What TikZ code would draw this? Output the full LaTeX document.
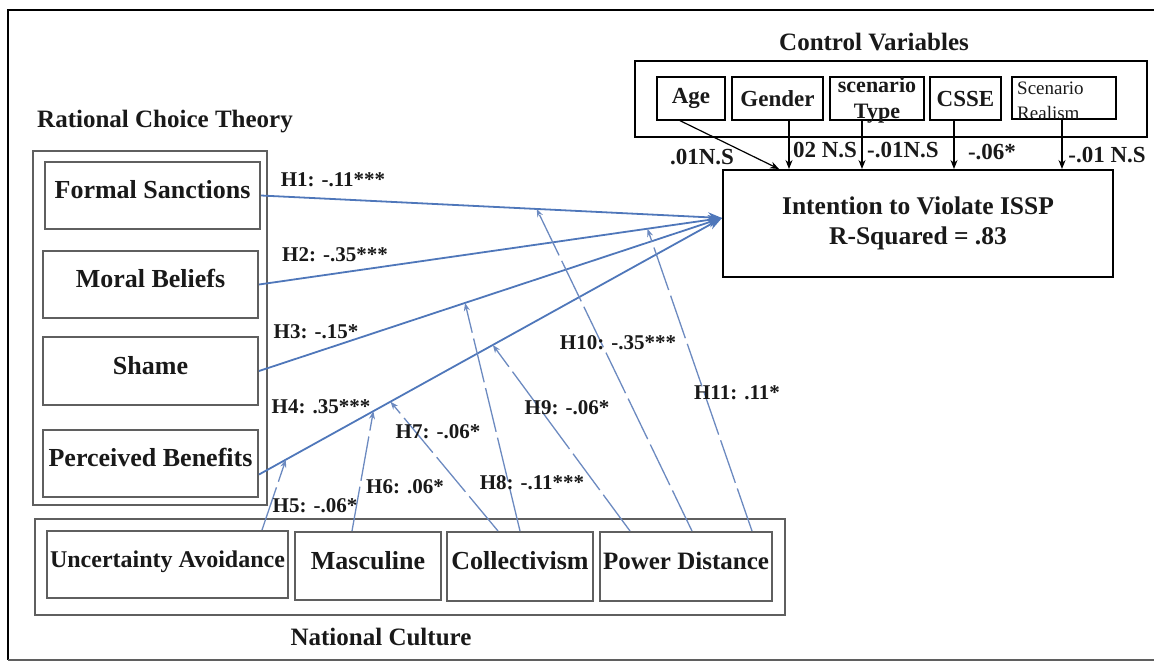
\documentclass[tikz,border=0pt]{standalone}
\usepackage{fontspec}
\setmainfont{Liberation Serif}
\usetikzlibrary{arrows.meta,calc}
\definecolor{pathblue}{RGB}{79,119,186}
\definecolor{modblue}{RGB}{108,138,192}
\definecolor{framegray}{RGB}{95,95,95}
\definecolor{ink}{RGB}{25,25,25}

\begin{document}
\begin{tikzpicture}[x=1pt,y=-1pt,
  every node/.style={text=ink, inner sep=0pt},
  grpbox/.style={draw=framegray, line width=2pt},
  varbox/.style={draw=framegray, line width=2pt,
    font=\fontsize{#1}{28}\selectfont\bfseries, text height=17pt, text depth=11pt},
  varbox/.default=26,
  ctlbox/.style={draw=black, line width=1.3pt, minimum height=43pt,
    font=\fontsize{23}{26}\selectfont\bfseries},
  titletext/.style={font=\fontsize{25}{30}\selectfont\bfseries},
  hlab/.style={font=\fontsize{21}{25}\selectfont\bfseries},
  clab/.style={font=\fontsize{23}{26}\selectfont\bfseries},
  mainpath/.style={draw=pathblue, line width=1.8pt, -{Stealth[length=14pt,width=10pt]}},
  modpath/.style={draw=modblue, line width=1.3pt, dash pattern=on 45pt off 6pt,
    -{Stealth[length=8pt,width=6pt]}},
  ctlarrow/.style={draw=black, line width=1.2pt, -{Stealth[length=9pt,width=7pt]}}
]
\useasboundingbox (0,0) rectangle (1154,662);

% outer frame
\draw[line width=2.8pt, black] (1160,10) -- (8,10) -- (8,660);
\draw[line width=1.8pt, framegray] (8,660) -- (1160,660);

% ---- Rational Choice Theory block
\node[titletext] (rcttitle) at (165,122) {Rational Choice Theory};
\node[grpbox, minimum width=234pt, minimum height=354pt] (rct) at (150,328) {};
\node[varbox, minimum width=215pt, minimum height=67pt] (fs) at (152.5,195.5) {Formal Sanctions};
\node[varbox, minimum width=215pt, minimum height=67pt] (mb) at (150.5,284.5) {Moral Beliefs};
\node[varbox, minimum width=215pt, minimum height=68pt] (sh) at (150.5,371) {Shame};
\node[varbox, minimum width=215pt, minimum height=67pt] (pb) at (150.5,463.5) {Perceived Benefits};

% ---- National Culture block
\node[grpbox, minimum width=750pt, minimum height=96pt] (nc) at (410,567) {};
\node[varbox=24, minimum width=241pt, minimum height=67pt] (ua) at (167.5,564.5) {Uncertainty Avoidance};
\node[varbox, minimum width=146pt, minimum height=68pt] (ma) at (368,566) {Masculine};
\node[varbox, minimum width=146pt, minimum height=69pt] (co) at (520,566.5) {Collectivism};
\node[varbox=25, minimum width=172pt, minimum height=69pt] (pd) at (686,566.5) {Power Distance};
\node[titletext] (nctitle) at (381,637) {National Culture};

% ---- Control variables block
\node[titletext] (cvtitle) at (874,42) {Control Variables};
\node[draw=black, line width=1.8pt, minimum width=512pt, minimum height=76pt] (cv) at (891,99) {};
\node[ctlbox, minimum width=68pt] (age) at (691,98.5) {Age};
\node[ctlbox, minimum width=91pt] (gen) at (777.5,98.5) {Gender};
\node[ctlbox, minimum width=94pt] (typ) at (877,98.5) {};
\node[font=\fontsize{22}{26}\selectfont\bfseries, align=center] (typtext) at (877,100.5) {scenario\\Type};
\node[ctlbox, minimum width=71pt] (csse) at (965.5,98.5) {CSSE};
\node[draw=black, line width=1.3pt, minimum width=104pt, minimum height=42pt] (real) at (1064,98) {};
\node[font=\fontsize{19}{25}\selectfont, align=left, anchor=west] (realtext) at (1017,100.5) {Scenario\\Realism};

% ---- Outcome
\node[draw=black, line width=2pt, minimum width=390pt, minimum height=107pt,
      font=\fontsize{25.5}{30}\selectfont\bfseries, align=center] (iv) at (918,223.5)
      {Intention to Violate ISSP\\R-Squared = .83};
\coordinate (tgt) at ([yshift=5.5pt]iv.west);

% control arrows
\draw[ctlarrow] ([xshift=-11pt]age.south) -- ([xshift=57pt]iv.north west);
\draw[ctlarrow] ([xshift=11.5pt]gen.south) -- ([xshift=11.5pt]gen.south |- iv.north);
\draw[ctlarrow] ([xshift=-15pt]typ.south) -- ([xshift=-15pt]typ.south |- iv.north);
\draw[ctlarrow] ([xshift=-11.5pt]csse.south) -- ([xshift=-11.5pt]csse.south |- iv.north);
\draw[ctlarrow] ([xshift=-2pt]real.south) -- ([xshift=-2pt]real.south |- iv.north);

\node[clab] (c1) at (702,157) {.01N.S};
\node[clab] (c2) at (825,150) {02 N.S};
\node[clab] (c3) at (903,150) {-.01N.S};
\node[clab] (c4) at (992,152) {-.06*};
\node[clab] (c5) at (1107,155) {-.01 N.S};

% main paths
\coordinate (pbout) at ([yshift=-11pt]pb.east);
\draw[mainpath] (fs.east) -- (tgt);
\draw[mainpath] (mb.east) -- (tgt);
\draw[mainpath] (sh.east) -- (tgt);
\draw[mainpath] (pbout) -- (tgt);

% moderating paths
\draw[modpath] ([xshift=94.5pt]ua.north) -- ($(pbout)!0.058!(tgt)$);
\draw[modpath] ([xshift=-16pt]ma.north) -- ($(pbout)!0.247!(tgt)$);
\draw[modpath] ([xshift=-22pt]co.north) -- ($(pbout)!0.284!(tgt)$);
\draw[modpath] (co.north) -- ($(sh.east)!0.445!(tgt)$);
\draw[modpath] ([xshift=-56pt]pd.north) -- ($(pbout)!0.505!(tgt)$);
\draw[modpath] ([xshift=6pt]pd.north) -- ($(fs.east)!0.598!(tgt)$);
\draw[modpath] ([xshift=66pt]pd.north) -- ($(mb.east)!0.839!(tgt)$);

% path labels
\node[hlab] (h1) at (333,180) {H1: -.11***};
\node[hlab] (h2) at (335,255) {H2: -.35***};
\node[hlab] (h3) at (316,332) {H3: -.15*};
\node[hlab] (h4) at (321,407) {H4: .35***};
\node[hlab] (h5) at (315,506) {H5: -.06*};
\node[hlab] (h6) at (405,487) {H6: .06*};
\node[hlab] (h7) at (438,432) {H7: -.06*};
\node[hlab] (h8) at (532,483) {H8: -.11***};
\node[hlab] (h9) at (567,408) {H9: -.06*};
\node[hlab] (h10) at (618,343) {H10: -.35***};
\node[hlab] (h11) at (737,393) {H11: .11*};
\end{tikzpicture}
\end{document}
